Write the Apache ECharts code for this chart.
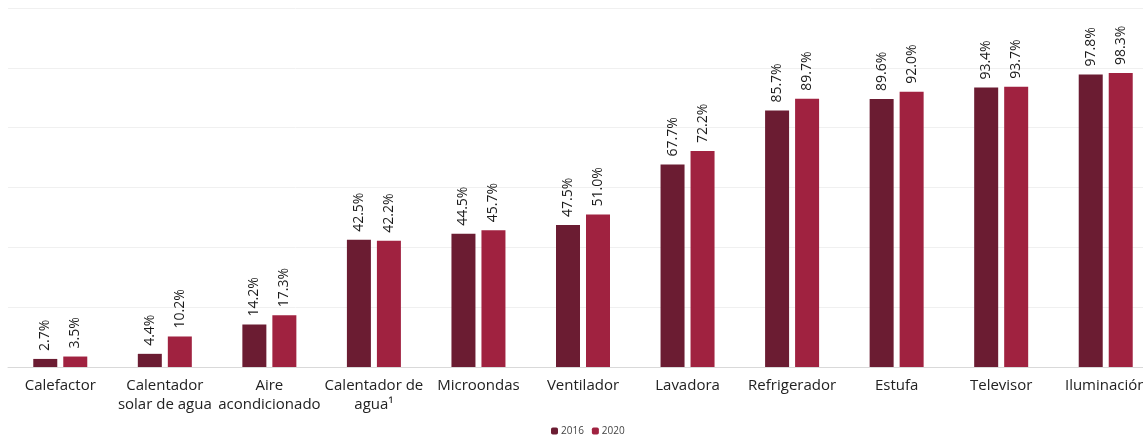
<!DOCTYPE html>
<html>
<head>
<meta charset="utf-8">
<script src="https://cdn.jsdelivr.net/npm/echarts@6/dist/echarts.min.js"></script>
<style>
  html, body { margin: 0; padding: 0; background: #fff; overflow: hidden; }
  #chart { width: 1158px; height: 435px; }
</style>
</head>
<body>
<div id="chart"></div>
<script>
const categories = [
    'Calefactor', 'Calentador\nsolar de agua', 'Aire\nacondicionado', 'Calentador de\nagua¹',
    'Microondas', 'Ventilador', 'Lavadora', 'Refrigerador', 'Estufa', 'Televisor', 'Iluminación'
];
const values2016 = [2.7, 4.4, 14.2, 42.5, 44.5, 47.5, 67.7, 85.7, 89.6, 93.4, 97.8];
const values2020 = [3.5, 10.2, 17.3, 42.2, 45.7, 51.0, 72.2, 89.7, 92.0, 93.7, 98.3];

const fontFamily = '"Open Sans", "DejaVu Sans", sans-serif';

// the chart is wider than the window, the last label gets cut like in the source
const barLabel = {
    show: true,
    position: 'top',
    rotate: 90,
    align: 'left',
    verticalAlign: 'middle',
    distance: 8,
    color: '#1a1a1a',
    fontSize: 14,
    fontFamily: fontFamily,
    formatter: (p) => p.value.toFixed(1) + '%'
};

const chart = echarts.init(document.getElementById('chart'));
chart.setOption({
    animation: false,
    grid: { left: 8, right: 0, top: 8, bottom: 68 },
    legend: {
        top: 421,
        left: 546,
        itemWidth: 7,
        itemHeight: 7,
        itemGap: 8,
        textStyle: { fontSize: 10, color: '#444', fontFamily: fontFamily, padding: [0, 0, 0, -2] },
        data: ['2016', '2020']
    },
    xAxis: {
        type: 'category',
        data: categories,
        axisTick: { show: false },
        axisLine: { lineStyle: { color: '#d9d9d9' } },
        axisLabel: {
            interval: 0,
            margin: 9,
            color: '#222',
            fontSize: 15,
            lineHeight: 19,
            fontFamily: fontFamily
        }
    },
    yAxis: {
        type: 'value',
        min: 0,
        max: 120,
        interval: 20,
        axisLabel: { show: false },
        axisLine: { show: false },
        axisTick: { show: false },
        splitLine: { lineStyle: { color: '#f0f0f0' } }
    },
    series: [
        {
            name: '2016',
            type: 'bar',
            data: values2016,
            barWidth: 24,
            barGap: '25%',
            itemStyle: { color: '#6b1c32' },
            label: barLabel
        },
        {
            name: '2020',
            type: 'bar',
            data: values2020,
            barWidth: 24,
            itemStyle: { color: '#a02240' },
            label: barLabel
        }
    ]
});
</script>
</body>
</html>
